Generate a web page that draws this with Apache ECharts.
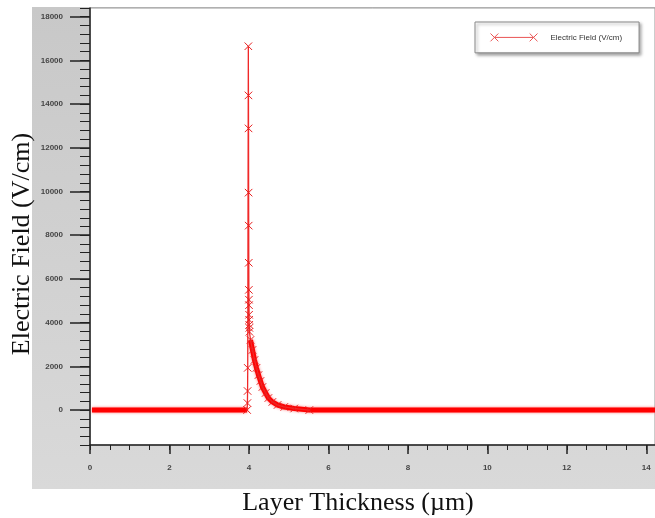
<!DOCTYPE html>
<html>
<head>
<meta charset="utf-8">
<script src="https://cdn.jsdelivr.net/npm/echarts@6/dist/echarts.min.js"></script>
<style>
html, body { margin: 0; padding: 0; background: #fff; }
#fieldChart { width: 655px; height: 518px; }
</style>
</head>
<body>
<div id="fieldChart"></div>
<script>
// values
var seriesName = 'Electric Field (V/cm)';
var xTicks = [0, 2, 4, 6, 8, 10, 12, 14];
var yTicks = [0, 2000, 4000, 6000, 8000, 10000, 12000, 14000, 16000, 18000];

// flat part left of the interface
var baseLeftX = [0.05, 1, 2, 3, 3.955];
var baseLeftY = [0, 0, 0, 0, 0];

// spike at the interface (~4 um)
var spikeX = [3.955, 3.962, 3.966, 3.970, 3.985, 3.988, 3.990, 3.992, 3.994, 3.996, 3.998, 4.000, 4.002, 4.004, 4.006, 4.008, 4.010, 4.012];
var spikeY = [0, 320, 870, 1930, 16650, 14400, 12890, 9950, 8440, 6740, 5500, 5050, 4800, 4360, 4130, 3900, 3760, 3580];

// tail after the spike
var decayX = [4.04, 4.09, 4.14, 4.19, 4.24, 4.29, 4.34, 4.42, 4.49, 4.59, 4.72, 4.89, 5.14, 5.52];
var decayY = [3210, 2750, 2290, 1930, 1600, 1330, 1055, 780, 550, 370, 230, 140, 70, 0];

// flat part to the right
var baseRightX = [5.52, 7, 9, 11, 13, 14.22];
var baseRightY = [0, 0, 0, 0, 0, 0];

function pairs(xs, ys) {
	return xs.map(function (x, i) { return [x, ys[i]]; });
}

var xMinor = [];
for (var a = 0; a <= 14.01; a += 0.5) xMinor.push(a);
var yMinor = [];
for (var b = -1600; b <= 18400; b += 400) yMinor.push(b);

var crossIcon = 'path://M0,0L8,8M8,0L0,8';
var legendIcon = 'path://M0,0L8,8M8,0L0,8M4,4L44,4M40,0L48,8M48,0L40,8';

var fieldChart = echarts.init(document.getElementById('fieldChart'));

var bandStyle = {
	color: '#ff0000',
	width: 5,
	shadowBlur: 3,
	shadowColor: 'rgba(255,0,0,0.55)'
};
var tickFont = { fontSize: 8, fontWeight: 'bold', color: '#444' };

var option = {
	animation: false,
	textStyle: { fontFamily: 'Liberation Sans' },
	graphic: [
		{
			type: 'rect', z: -10,
			shape: { x: 32, y: 7, width: 625, height: 482 },
			style: {
				fill: new echarts.graphic.LinearGradient(0, 0, 0, 1, [
					{ offset: 0, color: '#c8c8c8' },
					{ offset: 1, color: '#d9d9d9' }
				])
			}
		},
		{
			type: 'text', z: 10, x: 358, y: 503,
			style: {
				text: 'Layer Thickness (µm)', font: '26px "Liberation Serif"', fill: '#111',
				align: 'center', verticalAlign: 'middle'
			}
		},
		{
			type: 'text', z: 10, x: 22, y: 244, rotation: Math.PI / 2,
			style: {
				text: 'Electric Field (V/cm)', font: '26px "Liberation Serif"', fill: '#111',
				align: 'center', verticalAlign: 'middle'
			}
		}
	],
	legend: {
		left: 475,
		top: 22,
		padding: [9, 17, 9, 13],
		backgroundColor: '#fff',
		borderColor: '#888',
		borderWidth: 1,
		shadowBlur: 3,
		shadowOffsetX: 2,
		shadowOffsetY: 2,
		shadowColor: 'rgba(0,0,0,0.35)',
		itemWidth: 47,
		itemHeight: 8,
		data: [{ name: seriesName, icon: legendIcon }],
		itemStyle: { color: 'none', borderColor: '#ea5555', borderWidth: 1 },
		textStyle: { fontSize: 8, color: '#333', padding: [0, 0, 0, 8] }
	},
	grid: {
		left: 90, right: -2, top: 8, bottom: 73,
		show: true, backgroundColor: '#fff', borderColor: '#999', borderWidth: 1
	},
	xAxis: [
		{
			type: 'value', min: 0, max: 14.22,
			axisLine: { onZero: false, lineStyle: { color: '#222', width: 1.5 } },
			axisTick: { customValues: xTicks, length: 9, lineStyle: { color: '#222', width: 1.5 } },
			axisLabel: Object.assign({ customValues: xTicks, margin: 19 }, tickFont),
			splitLine: { show: false }
		},
		{
			type: 'value', min: 0, max: 14.22, position: 'bottom',
			axisLine: { show: false, onZero: false },
			axisTick: { customValues: xMinor, length: 5, lineStyle: { color: '#222', width: 1 } },
			axisLabel: { show: false },
			splitLine: { show: false }
		}
	],
	yAxis: [
		{
			type: 'value', min: -1600, max: 18400,
			axisLine: { show: true, onZero: false, lineStyle: { color: '#222', width: 1.5 } },
			axisTick: { show: true, customValues: yTicks, length: 20, lineStyle: { color: '#222', width: 1.5 } },
			axisLabel: Object.assign({
				customValues: yTicks, margin: 27,
				formatter: function (v) { return String(v); }
			}, tickFont),
			splitLine: { show: false }
		},
		{
			type: 'value', min: -1600, max: 18400, position: 'left',
			axisLine: { show: false, onZero: false },
			axisTick: { show: true, customValues: yMinor, length: 10, lineStyle: { color: '#222', width: 1 } },
			axisLabel: { show: false },
			splitLine: { show: false }
		}
	],
	series: [
		{
			name: seriesName, type: 'line', z: 3,
			data: pairs(spikeX.concat(decayX), spikeY.concat(decayY)),
			symbol: crossIcon, symbolSize: 7.5,
			itemStyle: { color: 'none', borderColor: '#e82020', borderWidth: 1 },
			lineStyle: { color: '#f02828', width: 1.3 }
		},
		{
			name: seriesName, type: 'line', z: 2,
			data: pairs(baseLeftX, baseLeftY),
			symbol: 'none', lineStyle: bandStyle
		},
		{
			name: seriesName, type: 'line', z: 2,
			data: pairs(decayX.concat(baseRightX), decayY.concat(baseRightY)),
			symbol: 'none', lineStyle: bandStyle
		}
	]
};

fieldChart.setOption(option);
</script>
</body>
</html>
